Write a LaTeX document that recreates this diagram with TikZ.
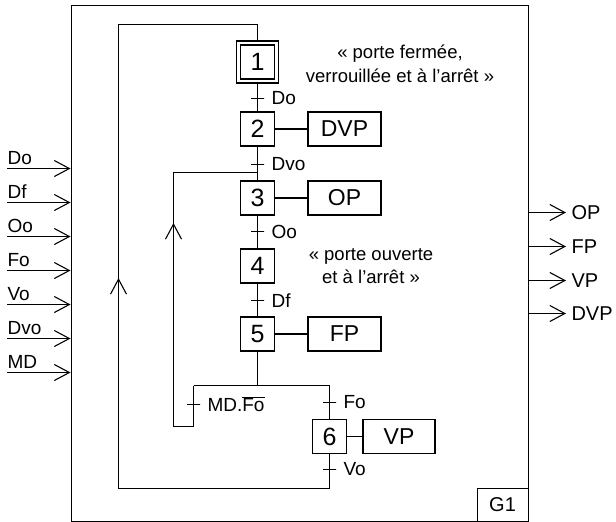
\documentclass[tikz,border=0pt]{standalone}
\usepackage{fontspec}
\setmainfont{Liberation Sans}
\usetikzlibrary{arrows.meta}
\tikzset{
  stepbox/.style={draw, minimum width=34pt, minimum height=34pt, inner sep=0pt, font=\fontsize{25}{25}\selectfont},
  actbox/.style={draw, minimum height=34pt, inner sep=0pt, font=\fontsize{23}{23}\selectfont},
  tickmark/.style={draw, minimum width=13pt, minimum height=0pt, inner sep=0pt, outer sep=0pt},
  tlbl/.style={anchor=west, inner sep=0pt, xshift=7pt, font=\fontsize{19}{19}\selectfont},
  inlbl/.style={anchor=base west, inner sep=0pt, font=\fontsize{19}{19}\selectfont},
  outlbl/.style={anchor=west, inner sep=0pt, xshift=5pt, font=\fontsize{20}{20}\selectfont},
  cmt/.style={align=center, inner sep=0pt, font=\fontsize{18.5}{23.5}\selectfont},
  arr/.style={-{Straight Barb[length=15pt,width=16pt]}},
}
\begin{document}
\begin{tikzpicture}[x=1pt,y=-1pt,line width=1.1pt]
\useasboundingbox (0,0) rectangle (616,522);
% outer block
\node[draw, minimum width=457pt, minimum height=516pt, anchor=north west, inner sep=0pt] (G) at (70.5,4.5) {};
\node[draw, minimum width=51pt, minimum height=33pt, anchor=south east, inner sep=0pt, font=\fontsize{20}{20}\selectfont] (G1) at (G.south east) {G1};
% steps
\node[draw, minimum width=42pt, minimum height=42pt, inner sep=0pt] (s1o) at (257.5,62) {};
\node[stepbox] (s1) at (257.5,62) {1};
\node[stepbox] (s2) at (257.5,129) {2};
\node[stepbox] (s3) at (257.5,198) {3};
\node[stepbox] (s4) at (257.5,266) {4};
\node[stepbox] (s5) at (257.5,334) {5};
\node[stepbox] (s6) at (329.5,436.5) {6};
% actions
\node[actbox, minimum width=73pt] (a2) at (344.5,129) {DVP};
\node[actbox, minimum width=73pt] (a3) at (344.5,198) {OP};
\node[actbox, minimum width=73pt] (a5) at (344.5,334) {FP};
\node[actbox, minimum width=72pt] (a6) at (399,436.5) {VP};
\draw (s2.east) -- (a2.west);
\draw (s3.east) -- (a3.west);
\draw (s5.east) -- (a5.west);
\draw (s6.east) -- (a6.west);
% comments
\node[cmt] (c1) at (400,64) {« porte fermée,\\verrouillée et à l’arrêt »};
\node[cmt] (c2) at (371,266) {« porte ouverte\\et à l’arrêt »};
% coordinates
\coordinate (j3) at (257.5,172.5);
\coordinate (div) at (257.5,385.5);
\coordinate (dL) at (193.5,385.5);
\coordinate (dR) at (329.5,385.5);
\coordinate (cL1) at (193.5,426.5);
\coordinate (cL2) at (173.5,426.5);
\coordinate (cL3) at (173.5,172.5);
\coordinate (aL) at (173.5,223);
\coordinate (cR1) at (329.5,488.5);
\coordinate (cR2) at (118.5,488.5);
\coordinate (cR3) at (118.5,24.5);
\coordinate (cR4) at (257.5,24.5);
\coordinate (aR) at (118.5,278);
% links
\draw (s1o.south) -- (s2.north);
\draw (s2.south) -- (s3.north);
\draw (s3.south) -- (s4.north);
\draw (s4.south) -- (s5.north);
\draw (s5.south) -- (div);
\draw (dL) -- (dR);
\draw (dL) -- (cL1) -- (cL2) -- (cL3) -- (j3);
\draw[arr] (cL2) -- (aL);
\draw (dR) -- (s6.north);
\draw (s6.south) -- (cR1) -- (cR2) -- (cR3) -- (cR4) -- (s1o.north);
\draw[arr] (cR2) -- (aR);
% transitions
\node[tickmark] (t12) at (257.5,98.5) {};
\node[tlbl] at (t12.east) {Do};
\node[tickmark] (t23) at (257.5,164.5) {};
\node[tlbl] at (t23.east) {Dvo};
\node[tickmark] (t34) at (257.5,231.5) {};
\node[tlbl] at (t34.east) {Oo};
\node[tickmark] (t45) at (257.5,300.5) {};
\node[tlbl] at (t45.east) {Df};
\node[tickmark] (t51) at (193.5,404.5) {};
\node[tlbl] at (t51.east) {MD.$\overline{\hbox{Fo}}$};
\node[tickmark] (t56) at (329.5,402.5) {};
\node[tlbl] at (t56.east) {Fo};
\node[tickmark] (t61) at (329.5,469.5) {};
\node[tlbl] at (t61.east) {Vo};
% inputs
\foreach \n/\y in {Do/168.5,Df/202.5,Oo/236.5,Fo/270.5,Vo/304.5,Dvo/338.5,MD/372.5}{
  \coordinate (i\n) at (7,\y);
  \draw[arr] (i\n) -- (i\n -| G.west);
  \node[inlbl] (li\n) at ([yshift=4pt]i\n) {\n};
}
% outputs
\foreach \n/\y in {OP/212.5,FP/246.5,VP/280.5,DVP/313.5}{
  \coordinate (o\n) at (566,\y);
  \draw[arr] (o\n -| G.east) -- (o\n);
  \node[outlbl] (lo\n) at (o\n) {\n};
}
\end{tikzpicture}
\end{document}
